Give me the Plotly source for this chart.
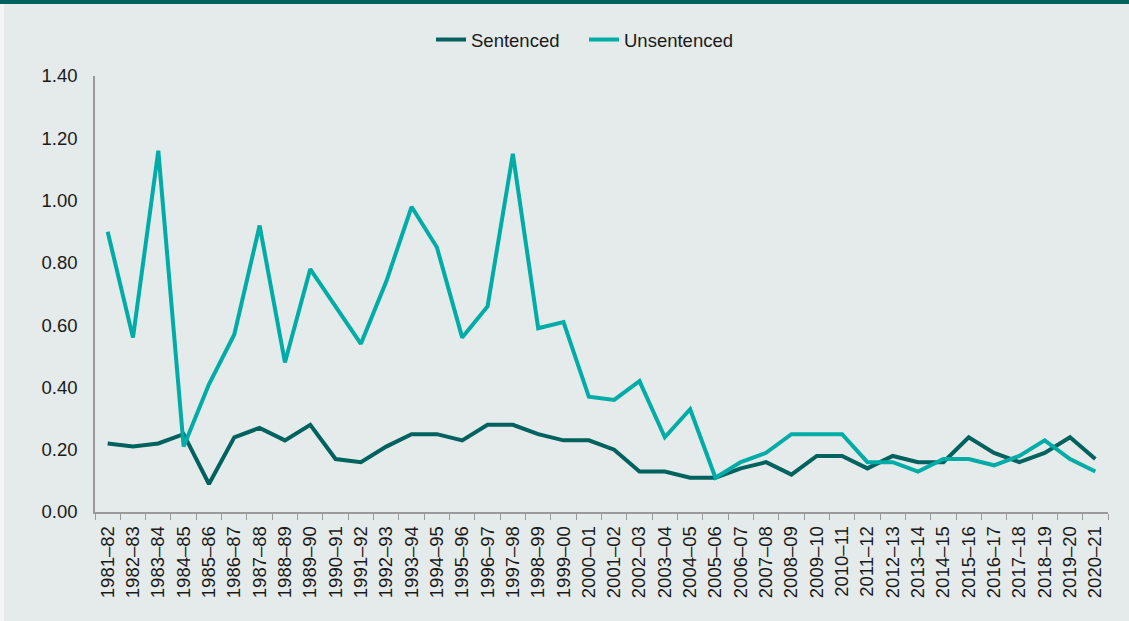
import plotly.graph_objects as go

years = ["1981\u201382","1982\u201383","1983\u201384","1984\u201385","1985\u201386","1986\u201387","1987\u201388","1988\u201389","1989\u201390","1990\u201391",
         "1991\u201392","1992\u201393","1993\u201394","1994\u201395","1995\u201396","1996\u201397","1997\u201398","1998\u201399","1999\u201300","2000\u201301",
         "2001\u201302","2002\u201303","2003\u201304","2004\u201305","2005\u201306","2006\u201307","2007\u201308","2008\u201309","2009\u201310","2010\u201311",
         "2011\u201312","2012\u201313","2013\u201314","2014\u201315","2015\u201316","2016\u201317","2017\u201318","2018\u201319","2019\u201320","2020\u201321"]

sentenced = [0.22,0.21,0.22,0.25,0.09,0.24,0.27,0.23,0.28,0.17,
             0.16,0.21,0.25,0.25,0.23,0.28,0.28,0.25,0.23,0.23,
             0.20,0.13,0.13,0.11,0.11,0.14,0.16,0.12,0.18,0.18,
             0.14,0.18,0.16,0.16,0.24,0.19,0.16,0.19,0.24,0.17]
unsentenced = [0.90,0.56,1.16,0.21,0.41,0.57,0.92,0.48,0.78,0.66,
               0.54,0.74,0.98,0.85,0.56,0.66,1.15,0.59,0.61,0.37,
               0.36,0.42,0.24,0.33,0.11,0.16,0.19,0.25,0.25,0.25,
               0.16,0.16,0.13,0.17,0.17,0.15,0.18,0.23,0.17,0.13]

dark = "#00625f"
light = "#00aca6"
bg = "#e5eaea"
font = "Liberation Sans, Arial"

W, H = 1129, 621
L, R, T, B = 95, 21, 76, 109
pw, ph = W - L - R, H - T - B

fig = go.Figure()
fig.add_trace(go.Scatter(x=years, y=sentenced, mode="lines", name="Sentenced",
                         line=dict(color=dark, width=4)))
fig.add_trace(go.Scatter(x=years, y=unsentenced, mode="lines", name="Unsentenced",
                         line=dict(color=light, width=4)))

fig.update_layout(
    width=W, height=H,
    paper_bgcolor=bg, plot_bgcolor=bg,
    margin=dict(l=L, r=R, t=T, b=B, autoexpand=False),
    font=dict(family=font, size=18.5, color="#1a1a1a"),
    legend=dict(orientation="h", x=(431 - L) / pw, xanchor="left",
                y=1 + (T - 40) / ph, yanchor="middle",
                font=dict(size=18.5), bgcolor="rgba(0,0,0,0)",
                itemwidth=30, entrywidth=108, entrywidthmode="pixels"),
    showlegend=True,
    shapes=[
        dict(type="rect", xref="paper", yref="paper", x0=-L / pw - 0.01, x1=1 + R / pw + 0.01,
             y0=1 + (T - 4) / ph, y1=1 + T / ph + 0.01, fillcolor=dark, line=dict(width=0), layer="above"),
        dict(type="rect", xref="paper", yref="paper", x0=-L / pw - 0.01, x1=(-L + 4) / pw,
             y0=-B / ph - 0.01, y1=1 + (T - 4) / ph, fillcolor="#f4f6f6", line=dict(width=0), layer="above"),
    ],
)
fig.update_xaxes(type="category", range=[-0.5, len(years) - 0.5], automargin=False,
                 tickangle=-90, showline=True, linecolor="#9a9a9a", linewidth=1.5,
                 ticks="outside", tickson="boundaries", ticklen=6, tickcolor="#9a9a9a",
                 showgrid=False, zeroline=False, ticklabelstandoff=5, tickfont=dict(size=18.5))
fig.update_yaxes(range=[0, 1.4], dtick=0.2, tickformat=".2f", automargin=False,
                 showline=True, linecolor="#9a9a9a", linewidth=1.5,
                 showgrid=False, zeroline=False, ticks="", ticklabelstandoff=12,
                 tickfont=dict(size=18.5))

fig.write_html("out.html", config={"displayModeBar": False},
               post_script="document.body.style.margin='0';document.body.style.padding='0';")
